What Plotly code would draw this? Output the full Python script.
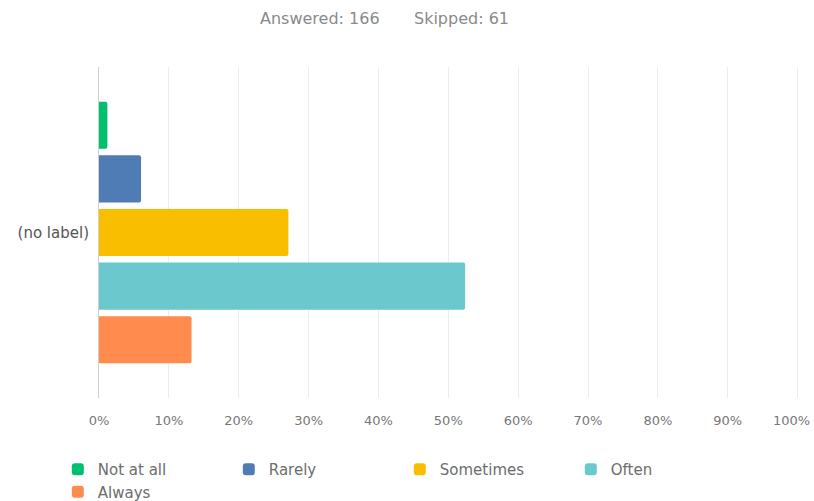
import plotly.graph_objects as go

# Survey responses (percent of 166 answered)
answers = ["Not at all", "Rarely", "Sometimes", "Often", "Always"]
percents = [1.20, 6.02, 27.11, 52.41, 13.25]
colors = ["#00BF6F", "#507CB6", "#F9BE00", "#6BC8CD", "#FF8B4F"]
category = ["(no label)"]
tick_vals = [0, 10, 20, 30, 40, 50, 60, 70, 80, 90, 100]
tick_text = [f"{v}%" for v in tick_vals]
answered = 166
skipped = 61

FONT = "DejaVu Sans, Verdana, sans-serif"
TICK_COLOR = "#777777"

# the last tick label is right-aligned at the edge so it stays on the page
last_label = tick_text[-1]
axis_text = tick_text[:-1] + [""]

fig = go.Figure()
for name, pct, col in zip(answers, percents, colors):
    fig.add_trace(go.Bar(
        name=name,
        x=[pct],
        y=category,
        orientation="h",
        marker=dict(color=col, line=dict(width=0), cornerradius=2),
        hovertemplate="%{x:.2f}%<extra>" + name + "</extra>",
    ))

fig.update_layout(
    width=814,
    height=501,
    margin=dict(l=99, r=15, t=67, b=103),
    paper_bgcolor="white",
    plot_bgcolor="white",
    barmode="group",
    bargap=0.19,
    bargroupgap=0.12,
    font=dict(family=FONT, size=13, color=TICK_COLOR),
    xaxis=dict(
        range=[0, 100.2],
        tickvals=tick_vals,
        ticktext=axis_text,
        showgrid=True,
        gridcolor="#ececec",
        gridwidth=1,
        zeroline=False,
        showline=False,
        ticks="",
        ticklabelstandoff=13,
        automargin=False,
        tickfont=dict(size=13, color=TICK_COLOR),
        fixedrange=True,
    ),
    yaxis=dict(
        autorange="reversed",
        showgrid=False,
        zeroline=False,
        showline=True,
        linecolor="#d0d0d0",
        linewidth=1,
        ticks="",
        ticklen=0,
        ticklabelstandoff=6,
        automargin=False,
        tickfont=dict(size=15, color="#555555"),
        fixedrange=True,
    ),
    legend=dict(
        orientation="h",
        xref="container",
        yref="container",
        x=0.071,
        xanchor="left",
        y=0.096,
        yanchor="top",
        entrywidth=126,
        entrywidthmode="pixels",
        font=dict(size=15, color="#6d6d6d"),
        itemsizing="constant",
        tracegroupgap=0,
    ),
    showlegend=True,
)

fig.add_annotation(
    text=last_label,
    xref="x", yref="paper",
    x=tick_vals[-1], y=0,
    xanchor="right", yanchor="middle",
    xshift=14, yshift=-22,
    showarrow=False,
    font=dict(size=13, color=TICK_COLOR, family=FONT),
)

fig.add_annotation(
    text=f"Answered: {answered}",
    xref="paper", yref="paper",
    x=0.404, y=1.0, yshift=49,
    xanchor="right", yanchor="middle",
    showarrow=False,
    font=dict(size=16, color="#8a8a8a", family=FONT),
)
fig.add_annotation(
    text=f"Skipped: {skipped}",
    xref="paper", yref="paper",
    x=0.447, y=1.0, yshift=49,
    xanchor="left", yanchor="middle",
    showarrow=False,
    font=dict(size=16, color="#8a8a8a", family=FONT),
)

fig.write_html("out.html")
